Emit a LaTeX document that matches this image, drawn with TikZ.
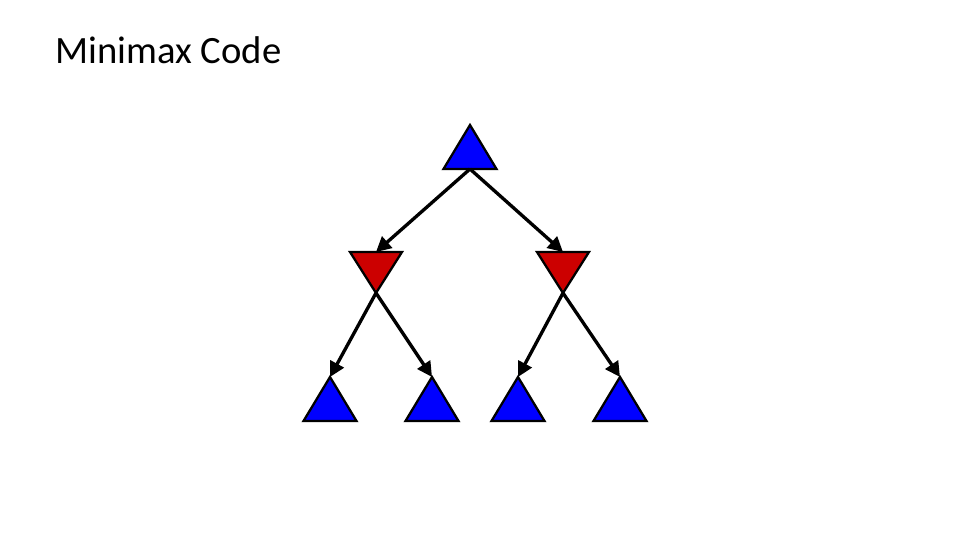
\documentclass[tikz,border=0pt]{standalone}
\usepackage{fontspec}
\setmainfont{Carlito}
\usepackage{tikz}
\usetikzlibrary{arrows.meta,shapes.geometric}
\definecolor{maxblue}{HTML}{0000FF}
\definecolor{minred}{HTML}{CC0000}

\begin{document}
\begin{tikzpicture}[
  x=0.02cm, y=-0.02cm,
  tri/.style={isosceles triangle, isosceles triangle stretches, draw=black, line width=1.3pt,
    inner sep=0pt, outer sep=0pt, minimum width=53*0.02cm, minimum height=44*0.02cm},
  maxnode/.style={tri, fill=maxblue, shape border rotate=90},
  minnode/.style={tri, fill=minred, shape border rotate=270, minimum width=52*0.02cm, minimum height=41*0.02cm},
  move/.style={line width=1.9pt, -{Triangle[length=3mm, width=3mm]}},
  title/.style={font=\fontsize{22}{26}\selectfont, anchor=base west, inner sep=0pt}
]
  \useasboundingbox (0,0) rectangle (960,540);
  \node[title] (head) at (55,64) {Minimax Code};

  % root and min layer
  \node[maxnode, anchor=apex] (root) at (470,125) {};
  \node[minnode, anchor=apex] (minl) at (376,293) {};
  \node[minnode, anchor=apex] (minr) at (563,293) {};

  % leaves
  \node[maxnode, anchor=apex] (leafa) at (330,377) {};
  \node[maxnode, anchor=apex] (leafb) at (432,377) {};
  \node[maxnode, anchor=apex] (leafc) at (518,377) {};
  \node[maxnode, anchor=apex] (leafd) at (620,377) {};

  \draw[move] (root.lower side) -- (minl.lower side);
  \draw[move] (root.lower side) -- (minr.lower side);
  \draw[move] (minl.apex) -- (leafa.apex);
  \draw[move] (minl.apex) -- (leafb.apex);
  \draw[move] (minr.apex) -- (leafc.apex);
  \draw[move] (minr.apex) -- (leafd.apex);
\end{tikzpicture}
\end{document}
